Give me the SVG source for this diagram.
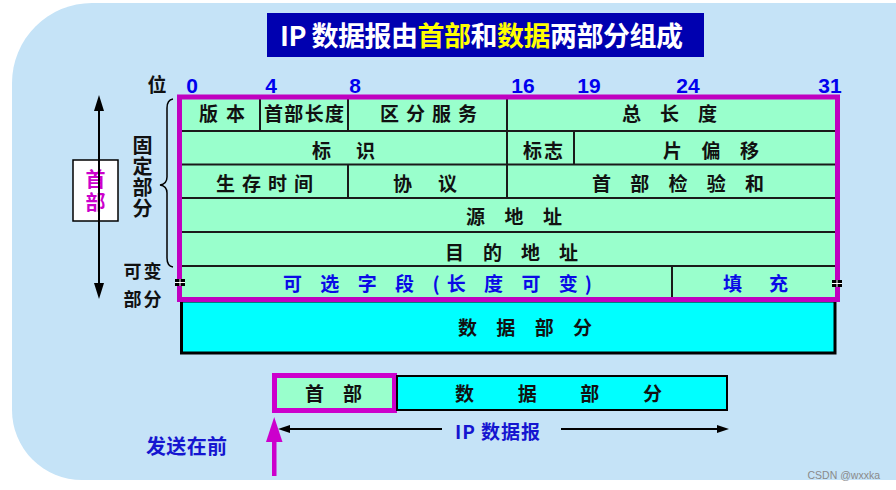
<svg xmlns="http://www.w3.org/2000/svg" width="896" height="490" viewBox="0 0 896 490">
<defs>
<style>
.t{font-family:"Noto Sans CJK SC","Noto Sans",sans-serif;font-weight:700;}
.c{font-size:19px;fill:#111;text-anchor:middle;}
.b{fill:#0a0ae6;}
.num{font-family:"Liberation Sans",Arial,sans-serif;font-weight:700;font-size:21px;fill:#0000ee;text-anchor:middle;}
.ln{stroke:#1a1a1a;stroke-width:2;fill:none;}
.arr{stroke:#000;stroke-width:2;fill:none;}
.v{writing-mode:vertical-rl;text-orientation:upright;}
</style>
</defs>
<rect width="896" height="490" fill="#ffffff"/>
<path d="M92,3 H896 V480 H82 A70,70 0 0 1 12,410 V83 A80,80 0 0 1 92,3 Z" fill="#c5e3f7"/>

<g id="title">
<rect x="267" y="13" width="437" height="44" fill="#0000b0"/>
<text class="t" x="481.5" y="46" font-size="27" text-anchor="middle" textLength="403" fill="#ffffff">IP 数据报由<tspan fill="#ffff00">首部</tspan>和<tspan fill="#ffff00">数据</tspan>两部分组成</text>
</g>

<g id="ruler">
<text class="t" x="157" y="92" font-size="19" text-anchor="middle" fill="#111">位</text>
<text class="num" x="192" y="93">0</text>
<text class="num" x="271" y="93">4</text>
<text class="num" x="355" y="93">8</text>
<text class="num" x="523" y="93">16</text>
<text class="num" x="589" y="93">19</text>
<text class="num" x="688" y="93">24</text>
<text class="num" x="830" y="93">31</text>
</g>

<g id="header-table">
<rect x="179.5" y="97" width="658" height="202.5" fill="#99ffcc"/>
<g class="ln">
<line x1="180" y1="131" x2="837" y2="131"/>
<line x1="180" y1="164.5" x2="837" y2="164.5"/>
<line x1="180" y1="198" x2="837" y2="198"/>
<line x1="180" y1="232" x2="837" y2="232"/>
<line x1="180" y1="266" x2="837" y2="266"/>
<line x1="260" y1="97" x2="260" y2="131"/>
<line x1="348" y1="97" x2="348" y2="131"/>
<line x1="507" y1="97" x2="507" y2="198"/>
<line x1="574" y1="131" x2="574" y2="164.5"/>
<line x1="348" y1="164.5" x2="348" y2="198"/>
<line x1="672" y1="266" x2="672" y2="299"/>
</g>
<g id="cell-version"><text class="t c" x="222" y="121" textLength="46">版 本</text></g>
<g id="cell-ihl"><text class="t c" x="304" y="121" textLength="80">首部长度</text></g>
<g id="cell-ds"><text class="t c" x="428.5" y="121" textLength="97">区分服务</text></g>
<g id="cell-total"><text class="t c" x="669.5" y="121" textLength="95">总 长 度</text></g>
<g id="cell-id"><text class="t c" x="343.5" y="158" textLength="63">标   识</text></g>
<g id="cell-flags"><text class="t c" x="543" y="158" textLength="40">标志</text></g>
<g id="cell-offset"><text class="t c" x="711" y="158" textLength="96">片 偏 移</text></g>
<g id="cell-ttl"><text class="t c" x="264.5" y="191" textLength="97">生存时间</text></g>
<g id="cell-proto"><text class="t c" x="425" y="191" textLength="64">协   议</text></g>
<g id="cell-checksum"><text class="t c" x="678" y="191" textLength="172">首 部 检 验 和</text></g>
<g id="cell-src"><text class="t c" x="514" y="224" textLength="96">源 地 址</text></g>
<g id="cell-dst"><text class="t c" x="511.5" y="259.5" textLength="133">目 的 地 址</text></g>
<g id="cell-options"><text class="t c b" x="437.5" y="291" textLength="309">可 选 字 段 (长 度 可 变)</text></g>
<g id="cell-padding"><text class="t c b" x="755.5" y="291" textLength="65">填   充</text></g>
</g>

<g id="data-part">
<rect x="181.5" y="301" width="653.5" height="52" fill="#00ffff" stroke="#000" stroke-width="3"/>
<rect x="179.5" y="97" width="658" height="202.5" fill="none" stroke="#c000c0" stroke-width="5"/>
<text class="t c" x="525" y="335" textLength="134">数 据 部 分</text>
</g>

<g id="marks">
<rect x="175" y="279" width="10" height="7" fill="#000"/>
<line x1="175" y1="282.5" x2="185" y2="282.5" stroke="#fff" stroke-width="1"/>
<line x1="180" y1="279" x2="180" y2="286" stroke="#fff" stroke-width="1"/>
<rect x="832" y="280" width="10" height="7" fill="#000"/>
<line x1="832" y1="283.5" x2="842" y2="283.5" stroke="#fff" stroke-width="1"/>
<line x1="837" y1="280" x2="837" y2="287" stroke="#fff" stroke-width="1"/>
</g>

<g id="left-labels">
<g id="label-fixed">
<text class="t v" font-size="20" fill="#111" x="142.5" y="135" letter-spacing="1.2">固定部分</text>
</g>
<g id="label-variable">
<text class="t" font-size="18" fill="#111" text-anchor="middle" x="142.5" y="277.5" textLength="38">可变</text>
<text class="t" font-size="18" fill="#111" text-anchor="middle" x="142.5" y="306" textLength="38">部分</text>
</g>
<g id="header-box">
<rect x="73" y="160" width="45" height="61" fill="#ffffff" stroke="#000" stroke-width="1.5"/>
<text class="t v" font-size="20" fill="#cc00cc" x="95.5" y="169" letter-spacing="3">首部</text>
</g>
</g>

<g id="bottom-header">
<rect x="274.5" y="375.5" width="120" height="35" fill="#99ffcc" stroke="#cc00cc" stroke-width="5"/>
<text class="t c" x="333.5" y="401" textLength="57">首 部</text>
</g>
<g id="bottom-data">
<rect x="397" y="376" width="330" height="34" fill="#00ffff" stroke="#000" stroke-width="2"/>
<text class="t c" x="558.5" y="401" textLength="207">数 据 部 分</text>
</g>
<g id="bottom-labels">
<text class="t" font-size="19" fill="#1515d0" text-anchor="middle" x="497.5" y="439" textLength="85">IP 数据报</text>
<text class="t" font-size="20" fill="#1515d0" text-anchor="middle" x="186.5" y="454" textLength="81">发送在前</text>
</g>

<g id="connectors">
<line class="arr" x1="99" y1="108" x2="99" y2="286" stroke-width="1.5"/>
<polygon points="99,95 94,111 104,111" fill="#000"/>
<polygon points="99,299 94,283 104,283" fill="#000"/>
<path d="M173,99 Q167,100 167,108 V177 Q167,184 160,185 Q167,186 167,193 V258 Q167,266 173,267" fill="none" stroke="#000" stroke-width="1.5"/>
<line class="arr" x1="286" y1="429" x2="442" y2="429"/>
<polygon points="278,429 290,425 290,433" fill="#000"/>
<line class="arr" x1="561" y1="429" x2="721" y2="429"/>
<polygon points="729,429 717,425 717,433" fill="#000"/>
<rect x="272" y="440" width="4.5" height="36" fill="#cc00cc"/>
<polygon points="274.2,417 266,442 282.5,442" fill="#cc00cc"/>
</g>

<text x="880" y="479" font-family="Liberation Sans, Arial, sans-serif" font-size="10.5" fill="#8a8a8a" text-anchor="end">CSDN @wxxka</text>
</svg>
